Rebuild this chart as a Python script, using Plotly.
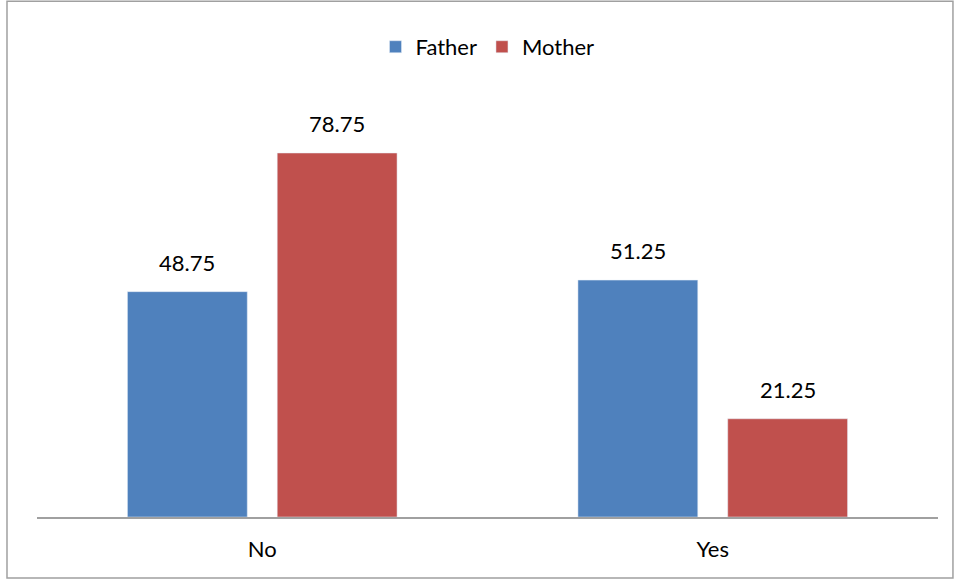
import plotly.graph_objs as go

categories = ["No", "Yes"]
father = [48.75, 51.25]
mother = [78.75, 21.25]

FONT = "Lato, Calibri, sans-serif"

fig = go.Figure()
fig.add_trace(go.Bar(x=categories, y=father, name="Father",
                     marker=dict(color="#4F81BD")))
fig.add_trace(go.Bar(x=categories, y=mother, name="Mother",
                     marker=dict(color="#C0504D")))

# value labels above each bar
annotations = []
for vals, shift in ((father, -75), (mother, 75)):
    for cat, v in zip(categories, vals):
        annotations.append(dict(
            x=cat, y=v, xref="x", yref="y", text=f"{v:.2f}",
            showarrow=False, xshift=shift, yshift=14, yanchor="bottom",
            font=dict(size=22, color="black"),
        ))

fig.update_layout(
    width=955, height=580,
    paper_bgcolor="white", plot_bgcolor="white",
    font=dict(family=FONT, size=22, color="black"),
    barmode="group", bargap=0.335, bargroupgap=0.2,
    margin=dict(l=37, r=17, t=101, b=63),
    xaxis=dict(showline=True, linecolor="#a0a0a0", linewidth=2,
               ticks="", showgrid=False, tickfont=dict(size=22),
               ticklabelstandoff=12),
    yaxis=dict(range=[0, 90], visible=False, showgrid=False),
    legend=dict(orientation="h", x=0.5, xanchor="center", y=1.13,
                yanchor="middle", font=dict(size=22)),
    annotations=annotations,
    shapes=[dict(type="rect", xref="paper", yref="paper",
                 x0=-0.0333, x1=1.0166, y0=-0.1466, y1=1.240,
                 line=dict(color="#a0a0a0", width=1.5))],
)

# drop the page's default body margin so the figure sits at the window's corner
fig.write_html("out.html", config={"displayModeBar": False},
               post_script="document.body.style.margin='0';")
